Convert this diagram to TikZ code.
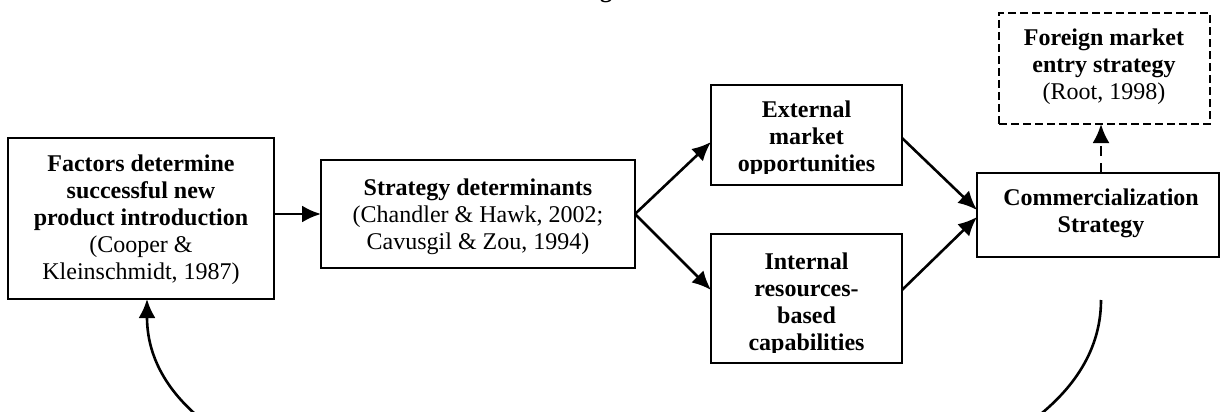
\documentclass[tikz,border=0pt]{standalone}
\usepackage{fontspec}
\setmainfont{Liberation Serif}
\usetikzlibrary{arrows.meta}
\begin{document}
\begin{tikzpicture}[x=1pt,y=-1pt,
  box/.style={draw, line width=2.2pt, inner sep=0pt, outer sep=0pt},
  dbox/.style={box, dash pattern=on 8pt off 4pt, line width=2pt},
  txt/.style={align=center, inner sep=0pt, anchor=north, font=\fontsize{24}{27}\selectfont},
  conn/.style={line width=2.6pt, -{Latex[length=19pt,width=17pt]}},
]
\useasboundingbox (0,0) rectangle (1221,412);
\begin{scope}
\clip (0,0) rectangle (1221,412);
% partially visible title letter
\node[font=\fontsize{24}{27}\selectfont\bfseries, anchor=base, inner sep=0pt] (ttl) at (606,-2) {g};

% boxes
\node[box, minimum width=266pt, minimum height=161pt] (fac) at (141,218.5) {};
\node[box, minimum width=314pt, minimum height=108pt] (str) at (478,214) {};
\node[box, minimum width=191pt, minimum height=100pt] (ext) at (806.5,135) {};
\node[box, minimum width=191pt, minimum height=129pt] (int) at (806.5,298.5) {};
\node[box, minimum width=242pt, minimum height=84pt] (com) at (1098,215) {};
\node[dbox, minimum width=211pt, minimum height=111pt] (for) at (1104.5,68.5) {};

% texts
\node[txt] (facT) at (141,154.5) {\textbf{Factors determine}\\ \textbf{successful new}\\ \textbf{product introduction}\\ (Cooper \&\\ Kleinschmidt, 1987)};
\node[txt] (strT) at (478,178.5) {\textbf{Strategy determinants}\\ (Chandler \& Hawk, 2002;\\ Cavusgil \& Zou, 1994)};
\begin{scope}
\clip (711,85) rectangle (902,173);
\node[txt] (extT) at (806.5,100.5) {\textbf{External}\\ \textbf{market}\\ \textbf{opportunities}};
\end{scope}
\begin{scope}
\clip (711,234) rectangle (902,352);
\node[txt] (intT) at (806.5,252.5) {\textbf{Internal}\\ \textbf{resources-}\\ \textbf{based}\\ \textbf{capabilities}};
\end{scope}
\node[txt] (comT) at (1101,189) {\textbf{Commercialization}\\ \textbf{Strategy}};
\node[txt] (forT) at (1104,28.5) {\textbf{Foreign market}\\ \textbf{entry strategy}\\ (Root, 1998)};

% connectors
\draw[conn] (fac.east |- str.west) -- (str.west);
\draw[conn] (str.east) -- ([yshift=-7pt]ext.west);
\draw[conn] (str.east) -- ([yshift=8.5pt]int.west);
\draw[conn] ([yshift=-3pt]ext.east) -- ([yshift=5pt]com.west);
\draw[conn] ([yshift=8.5pt]int.east) -- ([yshift=-2pt]com.west);
\draw[conn, dash pattern=on 10pt off 7pt] ([xshift=3pt]com.north) -- ([xshift=3pt]com.north |- for.south);
\coordinate (cs) at (1101,300);
\draw[conn] (cs) .. controls (1101,593) and (147,593) .. ([xshift=6pt]fac.south);
\end{scope}
\end{tikzpicture}
\end{document}
